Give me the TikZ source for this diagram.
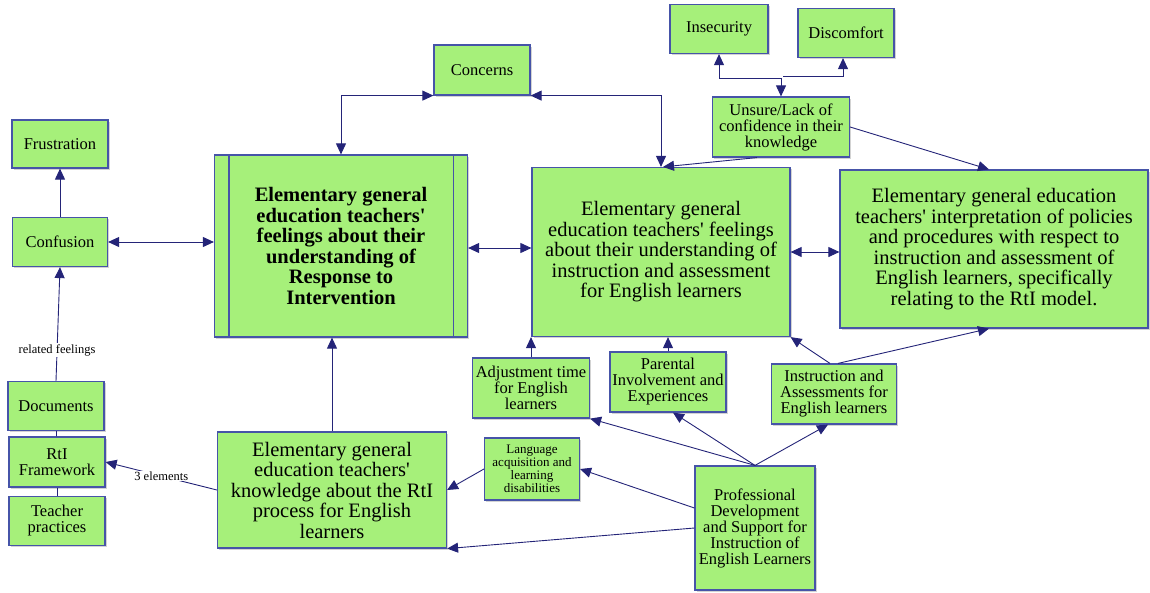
\documentclass[tikz,border=0pt]{standalone}
\usepackage{fontspec}
\setmainfont{Liberation Serif}
\usetikzlibrary{arrows.meta,shadows}

\definecolor{boxfill}{RGB}{166,240,122}
\definecolor{boxedge}{RGB}{70,84,168}
\definecolor{linknavy}{RGB}{36,36,120}
\newcommand{\q}{\textquotesingle}

\tikzset{
  box/.style={draw=boxedge,fill=boxfill,line width=1.2pt,align=center,inner sep=2pt,
    drop shadow={shadow xshift=1.5pt,shadow yshift=-1.5pt,opacity=0.35}},
  smallbox/.style={box,font=\fontsize{16.5}{16}\selectfont},
  bigbox/.style={box,font=\fontsize{20.5}{20.5}\selectfont},
  tinybox/.style={box,font=\fontsize{13}{13}\selectfont},
  link/.style={draw=linknavy,line width=0.9pt},
  arr/.style={link,-{Triangle[length=11pt,width=10pt]}},
  darr/.style={link,{Triangle[length=11pt,width=10pt]}-{Triangle[length=11pt,width=10pt]}},
  lbl/.style={fill=white,inner sep=1pt,font=\fontsize{12.5}{13}\selectfont}
}

\begin{document}
\begin{tikzpicture}[x=1pt,y=-1pt]
\useasboundingbox (0,0) rectangle (1150,592);

% left column
\node[smallbox,minimum width=96pt,minimum height=48pt] (frust) at (60,144) {Frustration};
\node[smallbox,minimum width=95pt,minimum height=49pt] (confu) at (60,242) {Confusion};
\node[smallbox,minimum width=96pt,minimum height=49pt] (docs) at (56,406) {Documents};
\node[smallbox,minimum width=96pt,minimum height=50pt] (rtifw) at (57,462) {RtI\\Framework};
\node[smallbox,minimum width=96pt,minimum height=49pt] (teach) at (57,521) {Teacher\\practices};

% central boxes
\node[bigbox,minimum width=253pt,minimum height=182pt,font=\fontsize{20.5}{20.5}\selectfont\bfseries] (rtifeel) at (341,246)
  {Elementary general\\education teachers\q\\feelings about their\\understanding of\\Response to\\Intervention};
\draw[boxedge,line width=1.2pt] ([xshift=15pt]rtifeel.north west) -- ([xshift=15pt]rtifeel.south west);
\draw[boxedge,line width=1.2pt] ([xshift=-15pt]rtifeel.north east) -- ([xshift=-15pt]rtifeel.south east);
\node[bigbox,minimum width=258pt,minimum height=169pt] (instrfeel) at (661,252)
  {Elementary general\\education teachers\q{} feelings\\about their understanding of\\instruction and assessment\\for English learners};
\node[bigbox,minimum width=308pt,minimum height=158pt] (interp) at (994,249)
  {Elementary general education\\teachers\q{} interpretation of policies\\and procedures with respect to\\instruction and assessment of\\English learners, specifically\\relating to the RtI model.};
\node[bigbox,minimum width=229pt,minimum height=116pt] (knowl) at (332,490)
  {Elementary general\\education teachers\q\\knowledge about the RtI\\process for English\\learners};

% top boxes
\node[smallbox,minimum width=96pt,minimum height=50pt] (concerns) at (482,70) {Concerns};
\node[smallbox,minimum width=98pt,minimum height=49pt] (insec) at (719,29) {Insecurity};
\node[smallbox,minimum width=96pt,minimum height=49pt] (discomf) at (846,33) {Discomfort};
\node[smallbox,minimum width=137pt,minimum height=60pt] (unsure) at (781,127) {Unsure/Lack of\\confidence in their\\knowledge};

% bottom boxes
\node[smallbox,minimum width=117pt,minimum height=60pt] (adjust) at (531,388) {Adjustment time\\for English\\learners};
\node[smallbox,minimum width=116pt,minimum height=60pt] (parent) at (668,382) {Parental\\Involvement and\\Experiences};
\node[smallbox,minimum width=125pt,minimum height=60pt] (instrass) at (834,394) {Instruction and\\Assessments for\\English learners};
\node[tinybox,minimum width=95pt,minimum height=62pt] (langacq) at (532,469) {Language\\acquisition and\\learning\\disabilities};
\node[smallbox,minimum width=120pt,minimum height=124pt] (profdev) at (755,528) {Professional\\Development\\and Support for\\Instruction of\\English Learners};

% connectors
\draw[arr] (confu.north) -- (frust.south);
\draw[darr] (confu.east) -- (confu.east -| rtifeel.west);
\draw[arr] (docs.north) -- node[lbl,pos=0.27] {related feelings} (confu.south);
\draw[link] (docs) -- (rtifw);
\draw[link] (rtifw) -- (teach);
\draw[arr] (knowl.west) -- node[lbl,pos=0.5] {3 elements} (rtifw.east);

\draw[darr] (rtifeel.north) |- (concerns.south west);
\draw[darr] (concerns.south east) -| (instrfeel.north);
\coordinate (fork) at (781,78);
\draw[darr] (insec.south) |- (fork) -- (unsure.north);
\draw[arr] ([xshift=2pt,yshift=2pt]fork) -| ([xshift=-3pt]discomf.south);
\draw[arr] ([xshift=45pt]unsure.south west) -- ([xshift=2pt]instrfeel.north);
\draw[arr] (unsure.east) -- ([xshift=-5pt]interp.north);

\draw[darr] ([yshift=-2pt]rtifeel.east) -- ([yshift=-2pt]rtifeel.east -| instrfeel.west);
\draw[darr] (instrfeel.east) -- (instrfeel.east -| interp.west);

\draw[arr] (adjust.north) -- (adjust.north |- instrfeel.south);
\draw[arr] (parent.north) -- (parent.north |- instrfeel.south);
\draw[arr] ([xshift=-4pt]instrass.north) -- (instrfeel.south east);
\draw[arr] ([xshift=4pt]instrass.north) -- ([xshift=-5pt]interp.south);
\draw[arr] (knowl.north) -- (knowl.north |- rtifeel.south);
\draw[arr] (langacq.west) -- (knowl.east);

\draw[arr] (profdev.north) -- (adjust.south east);
\draw[arr] (profdev.north) -- ([xshift=5pt]parent.south);
\draw[arr] (profdev.north) -- ([xshift=-6pt]instrass.south);
\draw[arr] ([yshift=20pt]profdev.west) -- (langacq.east);
\draw[arr] (profdev.west) -- (knowl.south east);
\end{tikzpicture}
\end{document}
